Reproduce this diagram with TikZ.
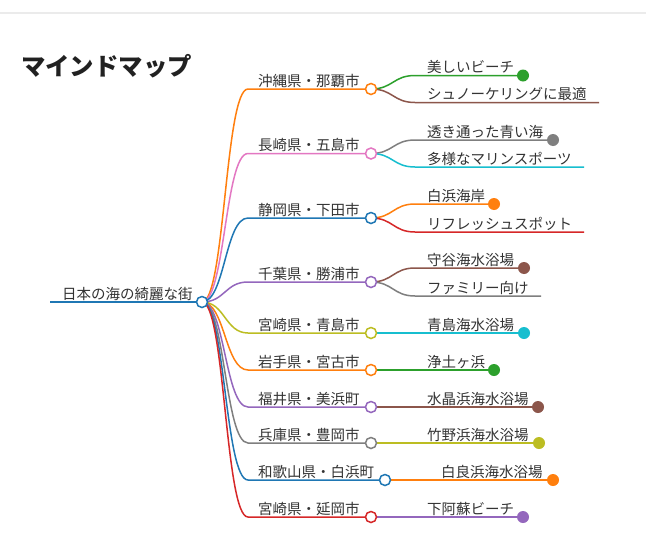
\documentclass[tikz,border=0pt]{standalone}
\usepackage{fontspec}
\setmainfont{Noto Sans CJK JP}
\newfontfamily\jpfont{Noto Sans CJK JP}
\pgfdeclarelayer{back}
\pgfdeclarelayer{bg}
\pgfsetlayers{back,bg,main}
\definecolor{mblue}{HTML}{1F77B4}
\definecolor{morange}{HTML}{FF7F0E}
\definecolor{mgreen}{HTML}{2CA02C}
\definecolor{mred}{HTML}{D62728}
\definecolor{mpurple}{HTML}{9467BD}
\definecolor{mbrown}{HTML}{8C564B}
\definecolor{mpink}{HTML}{E377C2}
\definecolor{mgray}{HTML}{7F7F7F}
\definecolor{molive}{HTML}{BCBD22}
\definecolor{mcyan}{HTML}{17BECF}
\definecolor{txt}{HTML}{333333}
\tikzset{
  link/.style={line width=1.5pt},
  hollow/.style={circle, minimum size=11pt, inner sep=0pt, line width=1.5pt, fill=white},
  dot/.style={circle, minimum size=12pt, inner sep=0pt},
  lbl/.style={anchor=base west, inner sep=0pt, text=txt, font=\jpfont\fontsize{14.5}{16}\selectfont},
}
% #1 name, #2 y, #3 circle x, #4 colour, #5 text
\newcommand\lvone[5]{%
  \coordinate (#1s) at (248,#2);
  \node[hollow, draw=#4] (#1) at (#3,#2) {};
  \node[lbl] (#1t) at (258,#2-3) {#5};
  \begin{pgfonlayer}{bg}
    \draw[link,#4] (root.center) .. controls (225,302) and (225,#2) .. (#1s) -- (#1.center);
  \end{pgfonlayer}}
% #1 name, #2 parent, #3 parent x, #4 parent y, #5 y, #6 end x, #7 colour, #8 text, #9 dot (1) or line end (0)
\newcommand\lvtwo[9]{%
  \coordinate (#1s) at (#3+44,#5);
  \ifnum#9=1
    \node[dot, fill=#7] (#1e) at (#6,#5) {};
  \else
    \coordinate (#1e) at (#6,#5);
  \fi
  \node[lbl] (#1t) at (#3+56,#5-3) {#8};
  \begin{pgfonlayer}{bg}
    \draw[link,#7] (#2.center) .. controls (#3+22,#4) and (#3+22,#5) .. (#1s) -- (#1e.center);
  \end{pgfonlayer}}
\begin{document}
\begin{tikzpicture}[x=1pt,y=-1pt]
\useasboundingbox (0,0) rectangle (646,549);
\begin{pgfonlayer}{back}
\fill[white] (0,0) rectangle (646,549);
\end{pgfonlayer}
\coordinate (topl) at (0,13);
\coordinate (topr) at (646,13);
\draw[line width=1.5pt, color=black!8] (topl) -- (topr);
\node[anchor=base west, inner sep=0pt, text=black!87, font=\jpfont\bfseries\fontsize{24.4}{28}\selectfont] (title) at (21,75) {マインドマップ};
% root
\node[hollow, draw=mblue] (root) at (202,302) {};
\coordinate (roots) at (50,302);
\node[lbl] (roott) at (62,299) {日本の海の綺麗な街};
\begin{pgfonlayer}{bg}
  \draw[link,mblue] (roots) -- (root.center);
\end{pgfonlayer}
% level 1
\lvone{a}{89}{371}{morange}{沖縄県・那覇市}
\lvone{b}{153.5}{371}{mpink}{長崎県・五島市}
\lvone{c}{218}{371}{mblue}{静岡県・下田市}
\lvone{d}{282}{371}{mpurple}{千葉県・勝浦市}
\lvone{e}{333}{371}{molive}{宮崎県・青島市}
\lvone{f}{370}{371}{morange}{岩手県・宮古市}
\lvone{g}{407}{371}{mpurple}{福井県・美浜町}
\lvone{h}{443}{371}{mgray}{兵庫県・豊岡市}
\lvone{i}{480}{385}{mblue}{和歌山県・白浜町}
\lvone{j}{517}{371}{mred}{宮崎県・延岡市}
% level 2
\lvtwo{a1}{a}{371}{89}{75.5}{523}{mgreen}{美しいビーチ}{1}
\lvtwo{a2}{a}{371}{89}{102.5}{599}{mbrown}{シュノーケリングに最適}{0}
\lvtwo{b1}{b}{371}{153.5}{140}{553}{mgray}{透き通った青い海}{1}
\lvtwo{b2}{b}{371}{153.5}{167}{584}{mcyan}{多様なマリンスポーツ}{0}
\lvtwo{c1}{c}{371}{218}{204}{494}{morange}{白浜海岸}{1}
\lvtwo{c2}{c}{371}{218}{232}{584}{mred}{リフレッシュスポット}{0}
\lvtwo{d1}{d}{371}{282}{268}{524}{mbrown}{守谷海水浴場}{1}
\lvtwo{d2}{d}{371}{282}{296}{541}{mgray}{ファミリー向け}{0}
\lvtwo{e1}{e}{371}{333}{333}{524}{mcyan}{青島海水浴場}{1}
\lvtwo{f1}{f}{371}{370}{370}{494}{mgreen}{浄土ヶ浜}{1}
\lvtwo{g1}{g}{371}{407}{407}{538}{mbrown}{水晶浜海水浴場}{1}
\lvtwo{h1}{h}{371}{443}{443}{539}{molive}{竹野浜海水浴場}{1}
\lvtwo{i1}{i}{385}{480}{480}{553}{morange}{白良浜海水浴場}{1}
\lvtwo{j1}{j}{371}{517}{517}{523}{mpurple}{下阿蘇ビーチ}{1}
\end{tikzpicture}
\end{document}
